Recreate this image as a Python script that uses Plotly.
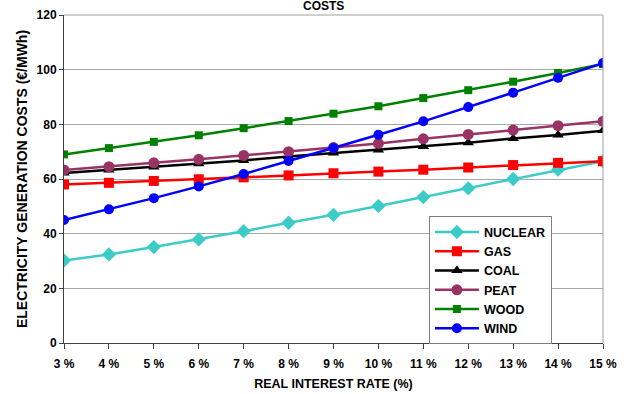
import plotly.graph_objects as go

# Real interest rate (%) on the x axis
rates = [3, 4, 5, 6, 7, 8, 9, 10, 11, 12, 13, 14, 15]
rate_labels = [f"{r} %" for r in rates]

# Electricity generation costs (€/MWh) per technology
nuclear = [30.2, 32.4, 35.1, 37.9, 40.9, 44.0, 46.9, 50.1, 53.4, 56.6, 60.0, 63.4, 66.5]
gas = [58.0, 58.6, 59.3, 59.9, 60.6, 61.3, 62.1, 62.7, 63.4, 64.2, 65.1, 65.9, 66.5]
coal = [62.2, 63.3, 64.4, 65.6, 66.8, 68.2, 69.5, 70.6, 71.9, 73.3, 74.8, 76.1, 77.7]
peat = [63.3, 64.5, 65.9, 67.2, 68.6, 70.0, 71.5, 73.0, 74.7, 76.3, 77.9, 79.5, 81.1]
wood = [69.0, 71.3, 73.6, 76.0, 78.6, 81.2, 83.9, 86.6, 89.6, 92.5, 95.6, 98.8, 102.1]
wind = [45.0, 48.9, 53.0, 57.3, 61.8, 66.6, 71.3, 76.2, 81.1, 86.3, 91.6, 97.0, 102.4]

series = [
    ("NUCLEAR", nuclear, "#3CCCC8", "diamond", 11),
    ("GAS", gas, "#FF0000", "square", 10),
    ("COAL", coal, "#000000", "triangle-up", 10),
    ("PEAT", peat, "#993366", "circle", 11),
    ("WOOD", wood, "#008000", "square", 8),
    ("WIND", wind, "#0000FF", "circle", 10),
]

fig = go.Figure()
for name, vals, color, symbol, size in series:
    fig.add_trace(go.Scatter(
        x=rates, y=vals, name=name, mode="lines+markers",
        line=dict(color=color, width=2.5),
        marker=dict(color=color, symbol=symbol, size=size),
    ))

font_family = "Liberation Sans, Arial, sans-serif"

fig.update_layout(
    width=630, height=394,
    margin=dict(l=64, r=27, t=15, b=51),
    paper_bgcolor="white", plot_bgcolor="white",
    font=dict(family=font_family, color="#000000"),
    showlegend=True,
    legend=dict(
        x=0.677, y=0.386, xanchor="left", yanchor="top",
        bgcolor="white", bordercolor="#808080", borderwidth=1,
        font=dict(family=font_family, size=12.5, color="#000000", weight="bold"),
        tracegroupgap=0, itemwidth=44, entrywidth=148,
    ),
    xaxis=dict(
        range=[3, 15], tickvals=rates, ticktext=rate_labels,
        showgrid=False, zeroline=False, automargin=False,
        showline=True, linecolor="#404040", linewidth=1,
        ticks="outside", ticklen=5, tickcolor="#404040",
        ticklabelstandoff=5,
        tickfont=dict(size=12, family=font_family, weight="bold"),
        title=dict(text="<b>REAL INTEREST RATE (%)</b>", font=dict(size=12.5), standoff=8),
    ),
    yaxis=dict(
        range=[0, 120], tickvals=[0, 20, 40, 60, 80, 100, 120],
        showgrid=True, gridcolor="#A8A8A8", gridwidth=1, zeroline=False,
        automargin=False,
        showline=True, linecolor="#404040", linewidth=1,
        ticks="outside", ticklen=4, tickcolor="#404040",
        tickfont=dict(size=12, family=font_family, weight="bold"),
        title=dict(text="<b>ELECTRICITY GENERATION COSTS (€/MWh)</b>", font=dict(size=14), standoff=5),
    ),
    annotations=[dict(
        text="<b>COSTS</b>", x=0.481, y=1, xref="paper", yref="paper",
        xanchor="center", yanchor="bottom", yshift=0, showarrow=False,
        font=dict(size=12, family=font_family, color="#000000"),
    )],
    shapes=[
        dict(type="line", xref="paper", yref="paper", x0=0, x1=1, y0=1, y1=1,
             line=dict(color="#A0A0A0", width=1)),
        dict(type="line", xref="paper", yref="paper", x0=1, x1=1, y0=0, y1=1,
             line=dict(color="#A0A0A0", width=1)),
    ],
)

fig.write_html("out.html")
